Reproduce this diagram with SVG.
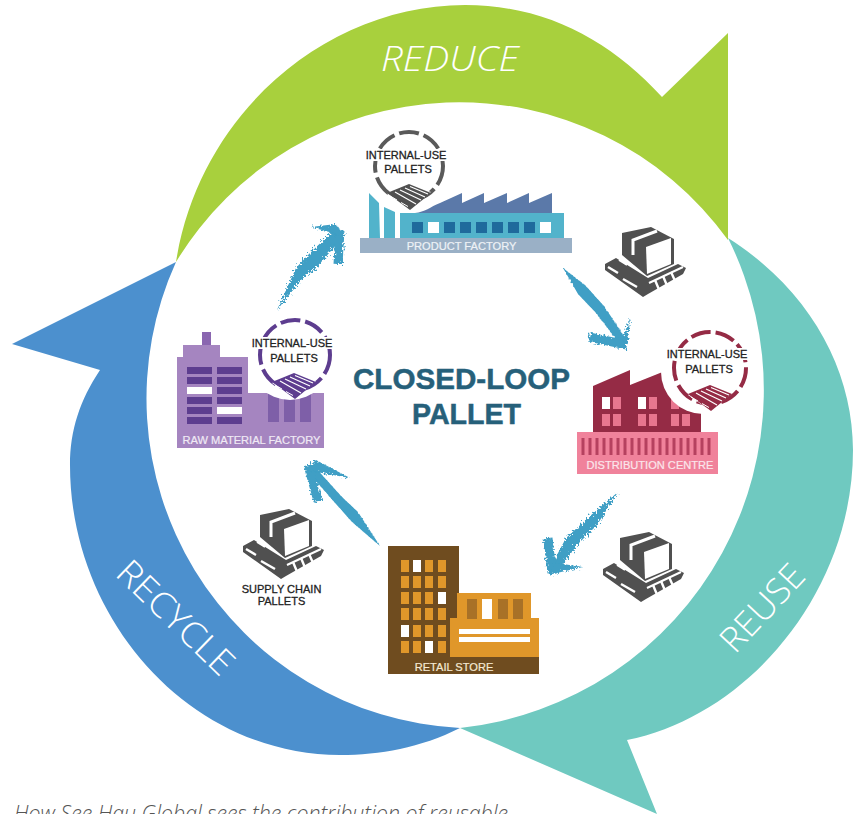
<svg xmlns="http://www.w3.org/2000/svg" width="862" height="814" viewBox="0 0 862 814">
<style>
text{font-family:"Liberation Sans",Arial,sans-serif}
.ring{font-family:"Open Sans","Liberation Sans",sans-serif;font-weight:300;fill:#fff;font-size:35px}
.lab{font-size:11px;fill:#222;stroke:#222;stroke-width:.3;text-anchor:middle}
.nm{font-size:11.1px;text-anchor:middle;stroke-width:.2}
.ttl{font-size:29.6px;font-weight:700;fill:#26607a;stroke:#26607a;stroke-width:.5;text-anchor:middle}
.dash{fill:none;stroke-width:4;stroke-dasharray:20 5}
.brush{filter:url(#rough)}
.brush polygon{fill:#3f9fc5}
.brush path{fill:none;stroke:#3f9fc5;stroke-width:9;stroke-linecap:butt}
</style>
<defs>
<filter id="rough" x="-30%" y="-30%" width="160%" height="160%">
<feTurbulence type="fractalNoise" baseFrequency="0.5" numOctaves="2" seed="4"/>
<feDisplacementMap in="SourceGraphic" scale="8"/>
</filter>
<symbol id="pal" viewBox="0 0 44 26" width="44" height="26" overflow="visible">
<polygon points="0,10 21,0 44,8 23,26" fill="#fff"/>
<polygon points="0,9 22,0 44,9 23,26" fill="currentColor"/>
<path d="M8,8 L29,20 M13,6 L34,16 M18,4 L38,13 M23,2.5 L41,10" stroke="#fff" stroke-width="1.2" fill="none"/>
<path d="M3,12 L10,16 M14,18.5 L21,22.5" stroke="#fff" stroke-width="1" fill="none"/>
</symbol>
<symbol id="box" viewBox="0 0 100 85" width="100" height="85" overflow="visible">
<polygon points="13,46 24,40 56,60 86,46 94,50 91,56 56,76 51,79 13,52" fill="#505050"/>
<polygon points="30,15 59,9 82,21 82,46 55,58 30,37" fill="#505050"/>
<polygon points="54,29 79,20 79,46 55,56" fill="#fff"/>
<path d="M65,13 L41,22 L41,37" fill="none" stroke="#fff" stroke-width="3"/>
<path d="M16,49 L26,55 M31,61 L45,69" stroke="#fff" stroke-width="2.4"/>
<path d="M27,42 L35,47 M57,65 L91,49" stroke="#fff" stroke-width="2" fill="none"/>
<path d="M63,62 L68,74 M71,58 L76,70 M79,54 L84,65" stroke="#fff" stroke-width="2.4"/>
</symbol>
</defs>
<rect width="862" height="814" fill="#fff"/>

<g id="ring">
<path id="reduce-arc" d="M176,262 C200,110 330,5 465,5 C545,5 610,40 662,97 L728,33 L728,240 A331,331 0 0 0 176,262Z" fill="#a8d03d"/>
<path id="reuse-arc" d="M728,238 C810,290 853,370 853,450 C853,590 750,715 627,740 L657,814 L460,728 A340,340 0 0 0 728,238Z" fill="#6fc9c0"/>
<path id="recycle-arc" d="M460,728 C420,748 380,755 340,755 C190,755 70,620 70,465 C70,430 80,400 100,370 L12,344 L176,262 A330,330 0 0 0 460,728Z" fill="#4c90ce"/>
<text class="ring" x="450" y="71" text-anchor="middle" textLength="138" lengthAdjust="spacingAndGlyphs" font-style="italic">REDUCE</text>
<text class="ring" transform="translate(114,575) rotate(44)" textLength="148" lengthAdjust="spacingAndGlyphs">RECYCLE</text>
<text class="ring" transform="translate(735,655) rotate(-47)" textLength="106" lengthAdjust="spacingAndGlyphs">REUSE</text>
</g>

<g id="title">
<text class="ttl" x="461.500" y="389" textLength="217" lengthAdjust="spacingAndGlyphs">CLOSED-LOOP</text>
<text class="ttl" x="466.500" y="424" textLength="109" lengthAdjust="spacingAndGlyphs">PALLET</text>
</g>

<g id="connectors" class="brush">
<polygon points="277,310 296,268 308,255 336,228 344,236 316,268 302,279"/><path d="M340,230 L338,264"/><polygon points="344,236 336,224 311,227"/>
<polygon points="563,268 585,285 604,306 628,342 622,347 596,313 578,294"/><path d="M627,345 L589,337"/><polygon points="628,344 622,340 630,318"/>
<polygon points="618,492 597,525 577,545 556,574 550,568 566,538 590,516"/><path d="M552,573 L548,538"/><polygon points="548,575 556,563 583,567"/>
<polygon points="380,546 352,522 336,504 308,472 314,466 342,497 358,512"/><path d="M308,465 L318,501"/><polygon points="305,470 316,460 350,478"/>
</g>

<g id="product-factory">
<rect x="360" y="238" width="212" height="15" fill="#9ab0c6"/>
<path d="M369,193 L379,203 L380,238 L369,238Z M384,207 L395,212 L395,238 L384,238Z M400,213 H564 V238 H400Z" fill="#52b3cb"/>
<path d="M415,213 C425,212 430,207 440,203 L462,193 V203 L484,193 V203 L507,193 V203 L529,193 V203 L552,193 V213Z" fill="#5b79a9"/>
<g fill="#1f6a9c"><rect x="412" y="222" width="11" height="11"/><rect x="428" y="222" width="11" height="11" fill="#fff"/><rect x="444" y="222" width="11" height="11"/><rect x="460" y="222" width="11" height="11"/><rect x="476" y="222" width="11" height="11"/><rect x="492" y="222" width="11" height="11"/><rect x="508" y="222" width="11" height="11"/><rect x="524" y="222" width="11" height="11"/><rect x="540" y="222" width="11" height="11" fill="#fff"/></g>
<circle class="dash" cx="409" cy="166" r="34" stroke="#5a5a5a"/>
<rect x="365" y="149" width="84" height="12" fill="#fff"/>
<use href="#pal" x="387" y="184" style="color:#505050"/>
<text class="lab" x="406" y="159">INTERNAL-USE</text>
<text class="lab" x="408" y="173">PALLETS</text>
<text class="nm" x="461.500" y="250" fill="#eef2f6" stroke="#eef2f6">PRODUCT FACTORY</text>
</g>

<g id="raw-material-factory">
<rect x="202" y="332" width="9" height="14" fill="#8a66b0"/>
<path d="M183,345 H220 V357 H248 V393 H324 V448 H177 V357 H183Z" fill="#a585c0"/>
<g fill="#5d3d8f"><rect x="187" y="367" width="25" height="7"/><rect x="217" y="367" width="25" height="7"/><rect x="187" y="377" width="25" height="7"/><rect x="217" y="377" width="25" height="7"/><rect x="187" y="387" width="25" height="7" fill="#fff"/><rect x="217" y="387" width="25" height="7"/><rect x="187" y="397" width="25" height="7"/><rect x="217" y="397" width="25" height="7"/><rect x="187" y="407" width="25" height="7"/><rect x="217" y="407" width="25" height="7" fill="#fff"/><rect x="187" y="417" width="25" height="7"/><rect x="217" y="417" width="25" height="7"/></g>
<g fill="#7e5fa8"><rect x="268" y="393" width="11" height="29"/><rect x="284" y="393" width="11" height="29"/><rect x="300" y="393" width="11" height="29"/></g>
<circle cx="290" cy="358" r="42" fill="#fff"/>
<circle class="dash" cx="295" cy="355" r="35" stroke="#5d3d8f"/>
<rect x="251" y="337" width="85" height="12" fill="#fff"/>
<use href="#pal" x="272" y="373" style="color:#5d3d8f"/>
<text class="lab" x="292" y="347">INTERNAL-USE</text>
<text class="lab" x="294" y="362">PALLETS</text>
<text class="nm" x="251.500" y="444" fill="#f0eaf5" stroke="#f0eaf5">RAW MATERIAL FACTORY</text>
</g>

<g id="distribution-centre">
<path d="M593,432 V386 L630,370 V385 L665,371 L701,400 V432Z" fill="#952b45"/>
<g fill="#e8768f"><rect x="602" y="397" width="8" height="12" fill="#fff"/><rect x="613" y="397" width="8" height="12"/><rect x="638" y="397" width="8" height="12" fill="#fff"/><rect x="649" y="397" width="8" height="12"/><rect x="671" y="397" width="8" height="12"/><rect x="602" y="414" width="8" height="12"/><rect x="613" y="414" width="8" height="12"/><rect x="638" y="414" width="8" height="12"/><rect x="649" y="414" width="8" height="12"/><rect x="671" y="414" width="8" height="12"/><rect x="682" y="414" width="8" height="12"/></g>
<circle cx="703" cy="372" r="42" fill="#fff"/>
<circle class="dash" cx="710" cy="368" r="36" stroke="#952b45"/>
<rect x="665" y="348" width="85" height="12" fill="#fff"/>
<use href="#pal" x="688" y="385" style="color:#952b45"/>
<text class="lab" x="707" y="358">INTERNAL-USE</text>
<text class="lab" x="709" y="373">PALLETS</text>
<rect x="577" y="432" width="141" height="42" fill="#f0829b"/>
<path d="M583,438 V455 M590,438 V455 M597,438 V455 M604,438 V455 M611,438 V455 M618,438 V455 M625,438 V455 M632,438 V455 M639,438 V455 M646,438 V455 M653,438 V455 M660,438 V455 M667,438 V455 M674,438 V455 M681,438 V455 M688,438 V455 M695,438 V455 M702,438 V455 M709,438 V455" stroke="#b5415f" stroke-width="3"/>
<text class="nm" x="650" y="469" fill="#fbe6eb" stroke="#fbe6eb">DISTRIBUTION CENTRE</text>
</g>

<g id="retail-store">
<path d="M388,546 H459 V657 H539 V674 H388Z" fill="#6f4c1f"/>
<g fill="#e0972a"><rect x="401" y="560" width="8" height="12"/><rect x="413" y="560" width="8" height="12" fill="#fff"/><rect x="425" y="560" width="8" height="12"/><rect x="438" y="560" width="8" height="12"/><rect x="401" y="576" width="8" height="12"/><rect x="413" y="576" width="8" height="12"/><rect x="425" y="576" width="8" height="12"/><rect x="438" y="576" width="8" height="12"/><rect x="401" y="592" width="8" height="12"/><rect x="413" y="592" width="8" height="12"/><rect x="425" y="592" width="8" height="12"/><rect x="438" y="592" width="8" height="12" fill="#fff"/><rect x="401" y="608" width="8" height="12"/><rect x="413" y="608" width="8" height="12"/><rect x="425" y="608" width="8" height="12"/><rect x="438" y="608" width="8" height="12"/><rect x="401" y="625" width="8" height="12" fill="#fff"/><rect x="413" y="625" width="8" height="12"/><rect x="425" y="625" width="8" height="12"/><rect x="438" y="625" width="8" height="12"/><rect x="401" y="641" width="8" height="12"/><rect x="413" y="641" width="8" height="12"/><rect x="425" y="641" width="8" height="12" fill="#fff"/><rect x="438" y="641" width="8" height="12"/></g>
<path d="M457,593 H531 V618 H539 V657 H450 V618 H457Z" fill="#e0972a"/>
<g fill="#a87127"><rect x="467" y="599" width="10" height="20"/><rect x="482" y="599" width="10" height="20" fill="#fff"/><rect x="498" y="599" width="10" height="20"/><rect x="513" y="599" width="10" height="20"/></g>
<rect x="459" y="629" width="71" height="5" fill="#fff"/><rect x="459" y="637" width="71" height="5" fill="#fff"/>
<text class="nm" x="454" y="671" fill="#f5e9d3" stroke="#f5e9d3">RETAIL STORE</text>
</g>

<g id="supply-chain-pallets">
<use href="#box" x="230" y="500"/>
<text class="lab" x="281.500" y="593">SUPPLY CHAIN</text>
<text class="lab" x="281.500" y="605">PALLETS</text>
</g>
<g id="pallet-top"><use href="#box" x="592" y="218"/></g>
<g id="pallet-bottom"><use href="#box" x="590" y="523"/></g>

<text id="caption" x="14" y="821" font-size="21.3" font-style="italic" font-weight="300" fill="#555" style="font-family:'Open Sans','Liberation Sans',sans-serif">How See Hau Global sees the contribution of reusable</text>
</svg>
